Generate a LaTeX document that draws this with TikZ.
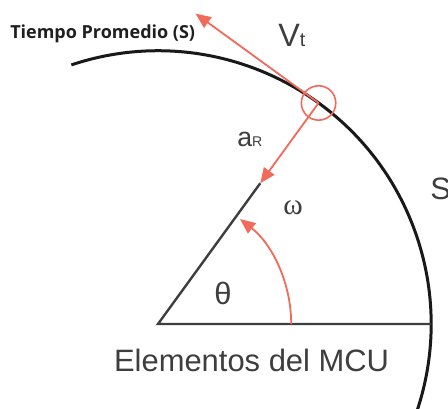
\documentclass[tikz,border=0pt]{standalone}
\usepackage{fontspec}
\setmainfont{Liberation Sans}
\newfontfamily\headfont{Open Sans}
\newfontfamily\greekserif{Liberation Serif}
\usetikzlibrary{arrows.meta,calc}
\definecolor{vecred}{RGB}{242,106,90}
\definecolor{inkgray}{RGB}{62,62,62}
\tikzset{
	vecline/.style={line width=0.45mm, color=vecred},
	vectip/.style={-{Triangle[length=3.8mm,width=3.2mm]}},
	lbl/.style={inner sep=0, text=inkgray},
}

\begin{document}
\begin{tikzpicture}
			%%%%% START %%%%%
			
			\useasboundingbox (-3.95, -2.125) rectangle (7.25, 8.1);
			\clip (-3.95, -2.125) rectangle (7.25, 8.1);
			
			\coordinate (O) at (0, 0);
			\coordinate (P) at (54:6.83);
			\coordinate (Rfoot) at (54:4.35);
			\coordinate (Xend) at (0:6.83);
			\coordinate (Vend) at ($(P)+(144:3.8)$);
			
			\draw[line width=0.75mm, color=black!90] (108.5:6.83) arc (108.5:-20:6.83);
			
			\draw[line width=0.6mm, color=inkgray] (Rfoot) -- (O) -- (Xend);
			
			\draw[vecline, vectip] (3.33, 0) arc (0:52:3.33);
			\draw[vecline, vectip] (P) -- (Rfoot);
			\draw[vecline, vectip] (P) -- (Vend);
			\draw[vecline, line width=0.4mm] (P) circle (0.43);
			
			\node[lbl, anchor=base west, text=black!88, font=\headfont\bfseries\fontsize{12.8}{12.8}\selectfont] (tiempo) at (-3.7, 7.125) {Tiempo Promedio (S)};
			\node[lbl, anchor=base west, font=\fontsize{23}{23}\selectfont] (vt) at (3.0, 6.925) {V{\fontsize{14}{14}\selectfont t}};
			\node[lbl, anchor=base west, font=\fontsize{19}{19}\selectfont] (ar) at (1.975, 4.425) {a{\fontsize{10}{10}\selectfont R}};
			\node[lbl, font=\greekserif\fontsize{21}{21}\selectfont] (omega) at (3.375, 2.9) {ω};
			\node[lbl, font=\fontsize{22}{22}\selectfont] (theta) at (1.625, 0.775) {θ};
			\node[lbl, anchor=base west, font=\fontsize{22}{22}\selectfont] (arcS) at (6.8, 3.1) {S};
			\node[lbl, anchor=base, font=\fontsize{22}{22}\selectfont] (mcu) at (2.34, -1.2) {Elementos del MCU};
			
			%%%%% END %%%%%
\end{tikzpicture}
\end{document}
